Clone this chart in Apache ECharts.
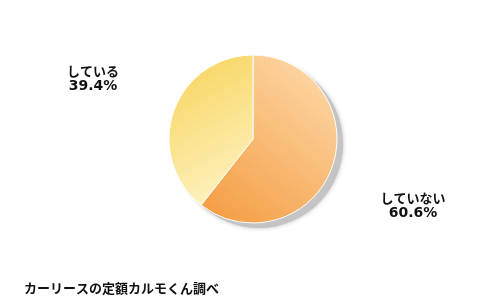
<!DOCTYPE html>
<html><head><meta charset="utf-8">
<script src="https://cdn.jsdelivr.net/npm/echarts@6/dist/echarts.min.js"></script>
<style>html,body{margin:0;padding:0;background:#fff}#c{width:500px;height:303px}</style>
</head><body><div id="c"></div>
<script>
var categories = ['していない', 'している'];
var values = [60.6, 39.4];
var footer = 'カーリースの定額カルモくん調べ';
var labelPos = [[413, 206], [93, 79]];

var fills = [
  new echarts.graphic.LinearGradient(0, 1, 1, 0, [{offset: 0, color: '#F49A3E'}, {offset: 1, color: '#FEDDB0'}]),
  new echarts.graphic.LinearGradient(0, 0, 1, 1, [{offset: 0, color: '#F8D257'}, {offset: 1, color: '#FEF6CC'}])
];

var chart = echarts.init(document.getElementById('c'), null, {renderer: 'canvas'});
chart.setOption({
  animation: false,
  backgroundColor: '#fff',
  title: {
    text: footer, left: 19, top: 277,
    textStyle: {fontSize: 13, fontWeight: 'bold', color: '#111', fontFamily: 'Noto Sans CJK JP'}
  },
  series: [
    {
      type: 'pie', silent: true, z: 1,
      center: [259, 144], radius: 84,
      label: {show: false}, labelLine: {show: false},
      itemStyle: {color: '#c4c4c4', shadowColor: 'rgba(0,0,0,0.25)', shadowBlur: 4},
      data: [{value: 1, name: ''}]
    },
    {
      type: 'pie', z: 2,
      center: [253, 139], radius: 84,
      startAngle: 90, clockwise: true,
      itemStyle: {borderColor: '#fff', borderWidth: 1},
      label: {
        show: true, position: 'outside',
        formatter: function (p) { return '{n|' + p.name + '}\n{v|' + p.value.toFixed(1) + '%}'; },
        align: 'center',
        rich: {
          n: {fontSize: 13, fontWeight: 'bold', color: '#111', lineHeight: 15, fontFamily: 'Noto Sans CJK JP', align: 'center'},
          v: {fontSize: 14, fontWeight: 'bold', color: '#111', lineHeight: 15, fontFamily: 'DejaVu Sans', align: 'center'}
        }
      },
      labelLine: {show: false},
      labelLayout: function (p) {
        var pos = labelPos[p.dataIndex];
        return {x: pos[0], y: pos[1], align: 'center', verticalAlign: 'middle'};
      },
      data: categories.map(function (c, i) {
        return {name: c, value: values[i], itemStyle: {color: fills[i]}};
      })
    }
  ]
});
</script></body></html>
